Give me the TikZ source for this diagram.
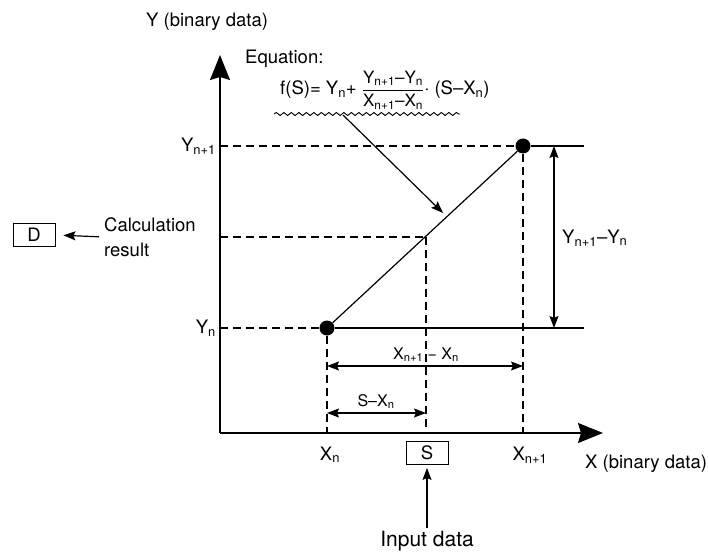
\documentclass[tikz,border=0pt]{standalone}
\usepackage{amsmath}
\usepackage{fontspec}
\setmainfont{TeX Gyre Heros}
\usetikzlibrary{positioning,arrows.meta,decorations.pathmorphing}
\newcommand{\sub}[1]{\textsubscript{#1}}
\newcommand{\eqfont}{\fontsize{17}{17}\selectfont}

\begin{document}
\begin{tikzpicture}[
    x=1pt,y=-1pt,
    axis/.style={line width=1.6pt,-{Stealth[length=25pt,width=20pt,inset=3pt]}},
    line/.style={line width=1.2pt},
    dashline/.style={line width=1.2pt,dash pattern=on 8pt off 5pt},
    dim/.style={line width=1.2pt,{Stealth[length=12pt,width=9pt,inset=2pt]}-{Stealth[length=12pt,width=9pt,inset=2pt]}},
    pointer/.style={line width=1.2pt,-{Stealth[length=12pt,width=9pt,inset=2pt]}},
    txt/.style={font=\fontsize{18.5}{25}\selectfont,inner sep=0pt},
    small/.style={font=\fontsize{16}{20}\selectfont,inner sep=0pt},
    databox/.style={draw,line width=0.9pt,minimum width=42pt,minimum height=23pt,inner sep=0pt,font=\fontsize{18.5}{22}\selectfont},
    dot/.style={circle,fill,inner sep=0pt,minimum size=15pt}
]
\useasboundingbox (0,0) rectangle (708,553);

% axes
\coordinate (O) at (220,433);
\coordinate (ytip) at (220,55);
\coordinate (xtip) at (603,433);
\draw[axis] (O) -- (ytip);
\draw[axis] (O) -- (xtip);

% table points
\coordinate (yn) at (220,328);
\coordinate (yq) at (220,237);
\coordinate (yn1) at (220,146);
\coordinate (xn) at (327,433);
\coordinate (xs) at (426,433);
\coordinate (xn1) at (523,433);
\coordinate (Q) at (426,237);
\coordinate (rn) at (584,328);
\coordinate (rn1) at (584,146);
\node[dot] (Pn) at (327,328) {};
\node[dot] (Pn1) at (523,146) {};

\draw[dashline] (yn1) -- (Pn1);
\draw[dashline] (yq) -- (Q);
\draw[dashline] (yn) -- (Pn);
\draw[dashline] (Pn) -- (xn);
\draw[dashline] (Q) -- (xs);
\draw[dashline] (Pn1) -- (xn1);
\draw[line] (Pn) -- (Pn1);
\draw[line] (Pn) -- (rn);
\draw[line] (Pn1) -- (rn1);

% dimensions
\coordinate (dytop) at (554,146);
\coordinate (dybot) at (554,328);
\coordinate (dxl) at (327,366);
\coordinate (dxr) at (523,366);
\coordinate (dsl) at (327,413);
\coordinate (dsr) at (426,413);
\draw[dim] (dytop) -- (dybot);
\draw[dim] (dxl) -- (dxr);
\draw[dim] (dsl) -- (dsr);
\node[txt,anchor=west] (dylbl) at (562,238) {Y\sub{n+1}–Y\sub{n}};
\node[small,anchor=base] (dxlbl) at (426,359) {X\sub{n+1} − X\sub{n}};
\node[small,anchor=base] (dslbl) at (376,406) {S–X\sub{n}};

% axis labels
\node[txt,anchor=base west] (ylbl) at (146,27) {Y (binary data)};
\node[txt,anchor=base west] (xlbl) at (585,468) {X (binary data)};
\node[txt,anchor=east] (yn1lbl) at (216,146) {Y\sub{n+1}};
\node[txt,anchor=east] (ynlbl) at (216,328) {Y\sub{n}};
\node[txt,anchor=base] (xnlbl) at (330,460) {X\sub{n}};
\node[txt,anchor=base] (xn1lbl) at (530,460) {X\sub{n+1}};

% equation
\node[txt,anchor=base west] (eqhd) at (245,64) {Equation:};
\node[txt,anchor=base west] (eq) at (280,95) {f(S)= Y\sub{n}+ $\dfrac{\text{\eqfont Y\sub{n+1}–Y\sub{n}}}{\text{\eqfont X\sub{n+1}–X\sub{n}}}$· (S–X\sub{n})};
\coordinate (wl) at (274,114);
\coordinate (wr) at (460,114);
\draw[line width=0.9pt,decorate,decoration={snake,amplitude=1.5pt,segment length=7.5pt}] (wl) -- (wr);
\coordinate (eqtail) at (343,115);
\coordinate (eqhead) at (443,213);
\draw[pointer] (eqtail) -- (eqhead);

% input and result
\node[databox] (S) at (427,453) {S};
\node[txt,font=\fontsize{21}{25}\selectfont,anchor=base] (input) at (427,546) {Input data};
\draw[pointer,shorten <=2pt,shorten >=3pt] (input.north) -- (S.south);
\node[databox] (D) at (34,235) {D};
\node[txt,anchor=west,align=left] (calc) at (104,237) {Calculation\\result};
\draw[pointer,shorten <=5pt,shorten >=8pt] (calc.west) -- (D.east);

\end{tikzpicture}
\end{document}
